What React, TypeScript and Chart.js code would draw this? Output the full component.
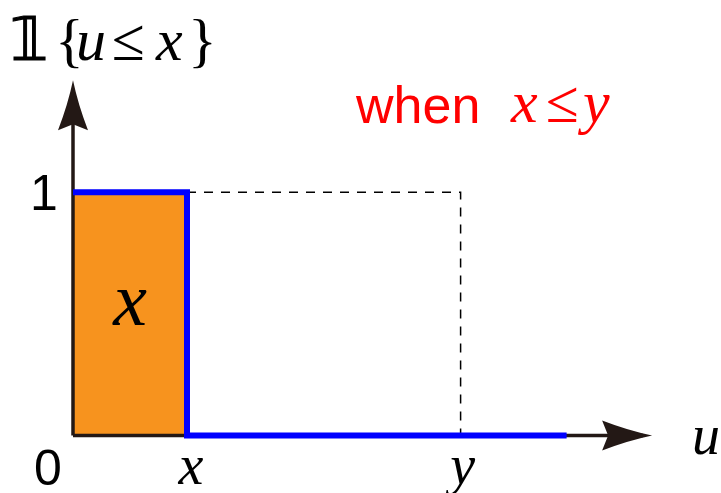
import React, { useEffect, useRef } from "react";
import { Chart, registerables } from "chart.js";

Chart.register(...registerables);

// ---- data (in plot units) ----
const stepU = [0, 1, 1, 4.33];
const stepV = [1, 1, 0, 0];
const areaU = [0, 1];
const areaV = [1, 1];
const guideU = [1, 3.4, 3.4];
const guideV = [1, 1, 0];
const xAxisU = [0, 5.0];
const xAxisV = [0, 0];
const yAxisU = [0, 0];
const yAxisV = [0, 1.4];
const arrowTipX = 5.08;
const arrowTipY = 1.46;
const markX = 1;
const markY = 3.4;
const tickLabels = ["0", "1", "x", "y", "u"];

const AXIS_COLOR = "#231815";
const BLUE = "#0000FF";
const ORANGE = "#F7931E";
const RED = "#FF0000";
const SERIF_I = "italic 56px 'Liberation Serif'";
const SERIF = "56px 'Liberation Serif'";
const SANS = "50px 'Liberation Sans'";

const pts = (us: number[], vs: number[]) => us.map((u, i) => ({ x: u, y: vs[i] }));

function drawArrow(ctx: CanvasRenderingContext2D, tx: number, ty: number, angle: number) {
  ctx.save();
  ctx.translate(tx, ty);
  ctx.rotate(angle);
  ctx.beginPath();
  ctx.moveTo(0, 0);
  ctx.quadraticCurveTo(-24, -5, -50, -15);
  ctx.lineTo(-44, 0);
  ctx.lineTo(-50, 15);
  ctx.quadraticCurveTo(-24, 5, 0, 0);
  ctx.closePath();
  ctx.fillStyle = AXIS_COLOR;
  ctx.fill();
  ctx.restore();
}

const overlay = {
  id: "overlay",
  afterDatasetsDraw(chart: any) {
    const { ctx, scales } = chart;
    const px = (v: number) => scales.x.getPixelForValue(v);
    const py = (v: number) => scales.y.getPixelForValue(v);
    drawArrow(ctx, px(arrowTipX), py(0), 0);
    drawArrow(ctx, px(0), py(arrowTipY), -Math.PI / 2);

    ctx.save();
    ctx.textBaseline = "alphabetic";
    ctx.fillStyle = "#000";
    // tick labels
    ctx.textAlign = "center";
    ctx.font = SANS;
    ctx.fillText(tickLabels[1], px(0) - 29, py(1) + 18);
    ctx.fillText(tickLabels[0], px(0) - 25, py(0) + 49);
    ctx.font = SERIF_I;
    ctx.fillText(tickLabels[2], px(markX) + 4, py(0) + 48);
    ctx.fillText(tickLabels[3], px(markY) + 2, py(0) + 48);
    ctx.fillText(tickLabels[4], px(arrowTipX) + 54, py(0) + 18);
    // area label
    ctx.font = "italic 76px 'Liberation Serif'";
    ctx.fillText("x", px(markX / 2), py(0.455));

    // title 1{u<=x}
    ctx.textAlign = "left";
    ctx.font = "60px 'DejaVu Sans'";
    ctx.fillText("\u{1D7D9}", 10, 60);
    ctx.lineWidth = 1;
    ctx.strokeStyle = "#000";
    ctx.strokeText("\u{1D7D9}", 10, 60);
    ctx.font = "60px 'Liberation Serif'";
    ctx.fillText("{", 55, 60);
    ctx.font = "italic 60px 'Liberation Serif'";
    ctx.fillText("u", 76, 60);
    ctx.font = "60px 'Liberation Serif'";
    ctx.fillText("\u2264", 112, 60);
    ctx.font = "italic 60px 'Liberation Serif'";
    ctx.fillText("x", 156, 60);
    ctx.font = "60px 'Liberation Serif'";
    ctx.fillText("}", 188, 60);

    // red annotation
    ctx.fillStyle = RED;
    ctx.font = "52px 'Liberation Sans'";
    ctx.fillText("when", 356, 123);
    ctx.font = "italic 60px 'Liberation Serif'";
    ctx.fillText("x", 511, 122);
    ctx.font = "60px 'Liberation Serif'";
    ctx.fillText("\u2264", 546, 122);
    ctx.font = "italic 60px 'Liberation Serif'";
    ctx.fillText("y", 583, 122);
    ctx.restore();
  },
};

export default function App() {
  const ref = useRef<HTMLCanvasElement | null>(null);
  useEffect(() => {
    if (!ref.current) return;
    const common = { pointRadius: 0, tension: 0, borderCapStyle: "butt", borderJoinStyle: "miter", clip: false };
    const chart = new Chart(ref.current, {
      type: "line",
      data: {
        datasets: [
          { ...common, data: pts(stepU, stepV), borderColor: BLUE, borderWidth: 6, fill: false, order: 0 },
          { ...common, data: pts(xAxisU, xAxisV), borderColor: AXIS_COLOR, borderWidth: 3.5, fill: false, order: 1 },
          { ...common, data: pts(yAxisU, yAxisV), borderColor: AXIS_COLOR, borderWidth: 3.5, fill: false, order: 1 },
          { ...common, data: pts(guideU, guideV), borderColor: "#000", borderWidth: 1.5, borderDash: [9, 8], fill: false, order: 2 },
          { ...common, data: pts(areaU, areaV), borderColor: ORANGE, borderWidth: 0, backgroundColor: ORANGE, fill: "origin", order: 3 },
        ] as any,
      },
      options: {
        responsive: false,
        animation: false,
        devicePixelRatio: 1,
        events: [],
        layout: { padding: { left: 73, right: 21, top: 70.5, bottom: 57.5 } },
        scales: {
          x: { type: "linear", min: 0, max: 5.5, display: false },
          y: { type: "linear", min: 0, max: 1.5, display: false },
        },
        plugins: { legend: { display: false }, tooltip: { enabled: false }, title: { display: false } },
      } as any,
      plugins: [overlay],
    });
    return () => chart.destroy();
  }, []);
  return (
    <div style={{ position: "fixed", left: 0, top: 0, width: 721, height: 493, background: "#fff" }}>
      <canvas ref={ref} width={721} height={493} />
    </div>
  );
}
